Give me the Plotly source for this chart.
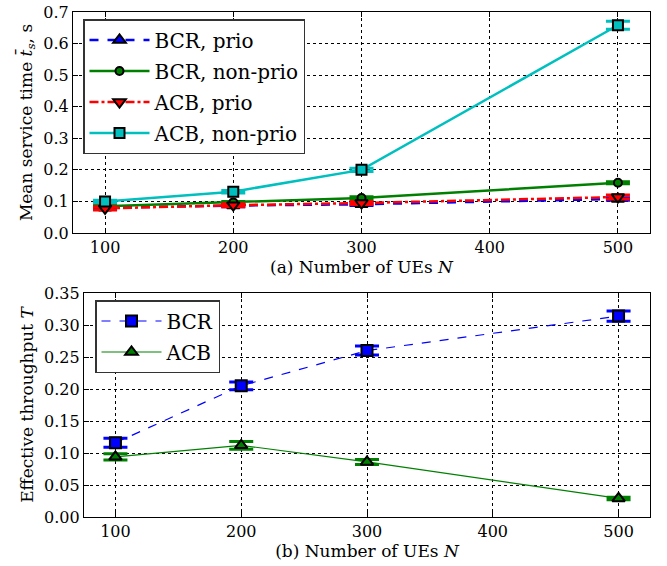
import plotly.graph_objects as go

N = [100, 200, 300, 500]

# Top panel: mean service time (s)
bcr_prio = [0.080, 0.087, 0.091, 0.108]
bcr_prio_err = [0.004, 0.004, 0.004, 0.004]
bcr_nonprio = [0.085, 0.097, 0.111, 0.159]
bcr_nonprio_err = [0.003, 0.003, 0.004, 0.003]
acb_prio = [0.078, 0.088, 0.095, 0.114]
acb_prio_err = [0.005, 0.005, 0.005, 0.006]
acb_nonprio = [0.100, 0.131, 0.200, 0.658]
acb_nonprio_err = [0.004, 0.004, 0.005, 0.013]

# Bottom panel: effective throughput
bcr_T = [0.116, 0.205, 0.260, 0.314]
bcr_T_err = [0.007, 0.006, 0.007, 0.008]
acb_T = [0.094, 0.112, 0.086, 0.029]
acb_T_err = [0.005, 0.006, 0.004, 0.002]

FONT = "DejaVu Serif"
BLUE, GREEN, RED, CYAN = "#0000ff", "#008000", "#ff0000", "#00bfbf"

W, H = 667, 566
def px(x):
    return x / W
def py(y):
    return 1 - y / H

fig = go.Figure()

def add(y, err, color, dash, symbol, size, name, lw, xa, ya, legend, ew=3):
    fig.add_trace(go.Scatter(
        x=N, y=y, name=name, mode="lines+markers", legendgroup=name,
        line=dict(color=color, width=lw, dash=dash),
        marker=dict(symbol=symbol, size=size, color=color,
                    line=dict(color="black", width=2)),
        error_y=dict(type="data", array=err, visible=True, color=color,
                     thickness=ew, width=12),
        xaxis=xa, yaxis=ya, legend=legend))

add(bcr_prio, bcr_prio_err, BLUE, "dash", "triangle-up", 11, "BCR, prio", 2.5, "x", "y", "legend")
add(bcr_nonprio, bcr_nonprio_err, GREEN, "solid", "circle", 8, "BCR, non-prio", 2.5, "x", "y", "legend")
add(acb_prio, acb_prio_err, RED, "dashdot", "triangle-down", 11, "ACB, prio", 2.5, "x", "y", "legend")
add(acb_nonprio, acb_nonprio_err, CYAN, "solid", "square", 10, "ACB, non-prio", 2.5, "x", "y", "legend")

add(bcr_T, bcr_T_err, BLUE, "dash", "square", 11, "BCR", 1.2, "x2", "y2", "legend2")
add(acb_T, acb_T_err, GREEN, "solid", "triangle-up", 11, "ACB", 1.2, "x2", "y2", "legend2")

axis_common = dict(
    showline=True, linecolor="black", linewidth=1.2, mirror="ticks",
    ticks="inside", ticklen=5, tickcolor="black",
    showgrid=True, gridcolor="black", griddash="dot", gridwidth=1,
    zeroline=False, tickfont=dict(family=FONT, size=16, color="black"),
    automargin=False, ticklabeloverflow="allow",
)
TITLE_FONT = dict(family=FONT, size=17, color="black")
LEG_FONT = dict(family=FONT, size=20, color="black")

fig.update_layout(
    width=W, height=H,
    margin=dict(l=0, r=0, t=0, b=0),
    paper_bgcolor="white", plot_bgcolor="white",
    font=dict(family=FONT, color="black"),
    showlegend=True,
    xaxis=dict(axis_common, domain=[px(73), px(650)], range=[75, 525],
               tickvals=[100, 200, 300, 400, 500], anchor="y",
               title=dict(text="(a) Number of UEs <i>N</i>", font=TITLE_FONT, standoff=4)),
    yaxis=dict(axis_common, domain=[py(233), py(12)], range=[0, 0.7],
               tickvals=[0, 0.1, 0.2, 0.3, 0.4, 0.5, 0.6, 0.7], tickformat=".1f", anchor="x",
               title=dict(text="Mean service time <i>t̄</i><sub><i>s</i></sub>, s", font=TITLE_FONT, standoff=6)),
    xaxis2=dict(axis_common, domain=[px(84), px(650)], range=[75, 525],
                tickvals=[100, 200, 300, 400, 500], anchor="y2",
                title=dict(text="(b) Number of UEs <i>N</i>", font=TITLE_FONT, standoff=4)),
    yaxis2=dict(axis_common, domain=[py(517), py(293)], range=[0, 0.35],
                tickvals=[0, 0.05, 0.1, 0.15, 0.2, 0.25, 0.3, 0.35], tickformat=".2f", anchor="x2",
                title=dict(text="Effective throughput <i>T</i>", font=TITLE_FONT, standoff=6)),
    legend=dict(x=px(83), y=py(19), xanchor="left", yanchor="top",
                bordercolor="#333333", borderwidth=1.5, bgcolor="white",
                font=LEG_FONT, itemwidth=60, tracegroupgap=2, traceorder="grouped"),
    legend2=dict(x=px(95), y=py(300), xanchor="left", yanchor="top",
                 bordercolor="#333333", borderwidth=1.5, bgcolor="white",
                 font=LEG_FONT, itemwidth=60, tracegroupgap=2, traceorder="grouped"),
)

# Remove the browser's default page margin so the figure fills the window.
fig.write_html("out.html", config={"displayModeBar": False},
               post_script="document.body.style.margin='0';document.body.style.overflow='hidden';")
